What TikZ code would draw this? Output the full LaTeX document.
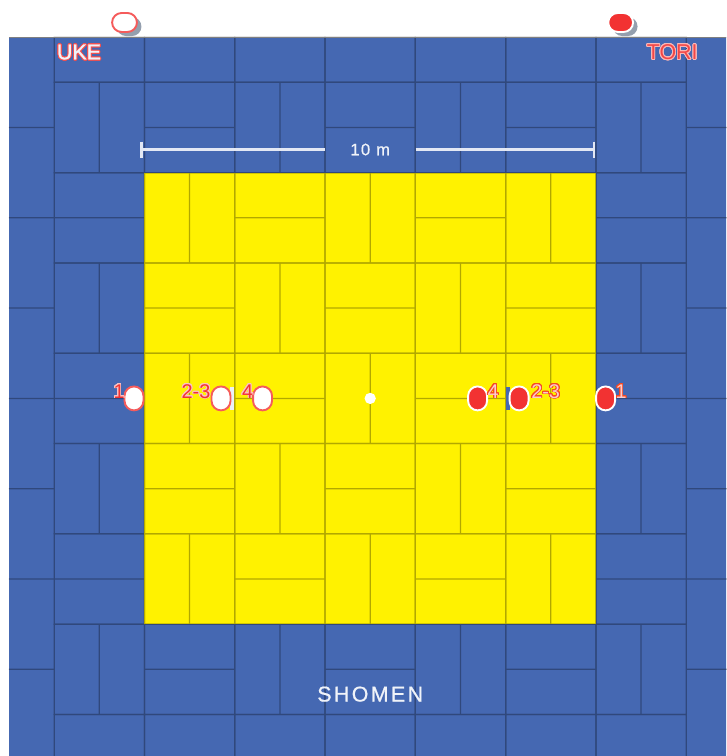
\documentclass[tikz,border=0pt]{standalone}
\usepackage{fontspec}
\usepackage[copies]{contour}
\setmainfont{Liberation Sans}
\usetikzlibrary{shadows}

\definecolor{matblue}{HTML}{4568B2}
\definecolor{matyellow}{HTML}{FFF200}
\definecolor{torired}{HTML}{F23232}
\definecolor{shadowgrey}{HTML}{66768C}
\contourlength{0.55pt}
\contournumber{24}

\tikzset{
  matline/.style={line width=0.8pt},
  dimline/.style={line width=1.5pt, white!85!matblue},
  plate/.style={rectangle, rounded corners=0.21cm, inner sep=0pt, line width=1.2pt},
  ukeplate/.style={plate, fill=white, draw=torired!80!white},
  toriplate/.style={plate, fill=torired, draw=white},
  standing/.style={minimum width=0.42cm, minimum height=0.53cm},
  waiting/.style={minimum width=0.55cm, minimum height=0.42cm,
    drop shadow={shadow xshift=0.1cm, shadow yshift=-0.09cm, fill=shadowgrey, opacity=0.7}},
  marktext/.style={font=\fontsize{12.5}{12.5}\selectfont},
  nametext/.style={font=\fontsize{13.5}{13.5}\selectfont},
  whitetext/.style={text=white!92!matblue, inner sep=0pt}
}

% (i, j) of the upper left corner, two mats side by side
\newcommand{\matblock}[2]{
    \draw[matline] (#1,#2) rectangle ++(2,2);
    \pgfmathtruncatemacro{\matturn}{mod((#1+#2)/2,2)}
    \ifnum\matturn=1
      \draw[matline] (#1+1,#2) -- (#1+1,#2+2);
    \else
      \draw[matline] (#1,#2+1) -- (#1+2,#2+1);
    \fi
}
\newcommand{\ukemark}[3]{
    \node[marktext, inner sep=0pt, text=torired] (uke#3) at (#1,7.85) {\contour{white!70!torired}{#2}};
}
\newcommand{\torimark}[3]{
    \node[marktext, inner sep=0pt, text=white!75!torired] (tori#3) at (#1,7.85) {\contour{torired!70!orange}{#2}};
}

\begin{document}
\begin{tikzpicture}[x=1cm, y=-1cm]

  \path[use as bounding box, clip] (-0.199,-0.824) rectangle (15.884,15.92);

  \fill[matblue] (0,0) rectangle (16,17);
  \fill[matyellow] (3,3) rectangle (13,13);

  \begin{scope}[transparency group, opacity=0.3]
    \foreach \i in {1,3,...,13} {
      \foreach \j in {1,3,...,13} {
        \matblock{\i}{\j}
      }
      \draw[matline] (\i,0) rectangle ++(2,1);
      \draw[matline] (\i,15) rectangle ++(2,1);
    }
    \foreach \j in {2,4,...,14} {
      \draw[matline] (0,\j) -- (1,\j);
      \draw[matline] (15,\j) -- (16,\j);
    }
  \end{scope}
  \draw[gray, line width=0.7pt] (0,0) -- (16,0);

  % waiting places
  \node[ukeplate, waiting] (ukewait) at (2.559,-0.326) {};
  \node[toriplate, waiting] (toriwait) at (13.547,-0.326) {};
  \node[nametext, whitetext, font=\fontsize{13.5}{13.5}\selectfont\addfontfeature{FakeBold=1}] (ukename) at (1.551,0.339) {\contour{torired!85!white}{UKE}};
  \node[nametext, inner sep=0pt, text=torired!90!white] (toriname) at (14.69,0.339) {\contour{white!65!torired}{TORI}};

  % 10 m
  \node[whitetext, minimum width=2cm, font=\fontsize{10.5}{10.5}\selectfont\addfontfeature{LetterSpace=8,FakeBold=0.6}] (dimtext) at (8,2.488) {10 m};
  \coordinate (dimleft) at (2.935,2.488);
  \coordinate (dimright) at (12.95,2.488);
  \draw[dimline] (dimtext.west) -- (dimleft);
  \draw[dimline] (dimtext.east) -- (dimright);
  \draw[dimline] ([yshift=0.177cm]dimleft) -- ([yshift=-0.177cm]dimleft);
  \draw[dimline] ([yshift=0.177cm]dimright) -- ([yshift=-0.177cm]dimright);

  \node[whitetext, font=\fontsize{13.5}{13.5}\selectfont\addfontfeature{LetterSpace=11,FakeBold=0.8}] (shomen) at (8,14.55) {SHOMEN};

  % bars next to the second places
  \fill[white!90!matblue] (4.895,7.74) rectangle (4.985,8.25);
  \fill[matblue] (11.0,7.74) rectangle (11.1,8.25);

  % places on the middle line
  \node[ukeplate, standing] (uke1) at (2.769,8) {};
  \node[ukeplate, standing] (uke23) at (4.696,8) {};
  \node[ukeplate, standing] (uke4) at (5.616,8) {};
  \node[toriplate, standing] (tori4) at (10.379,8) {};
  \node[toriplate, standing] (tori23) at (11.298,8) {};
  \node[toriplate, standing] (tori1) at (13.214,8) {};
  \node[circle, fill=white, minimum size=0.25cm, inner sep=0pt] (centre) at (8,8) {};

  \ukemark{2.437}{1}{one}
  \ukemark{4.143}{2-3}{twothree}
  \ukemark{5.284}{4}{four}
  \torimark{10.722}{4}{four}
  \torimark{11.886}{2-3}{twothree}
  \torimark{13.557}{1}{one}

\end{tikzpicture}
\end{document}
